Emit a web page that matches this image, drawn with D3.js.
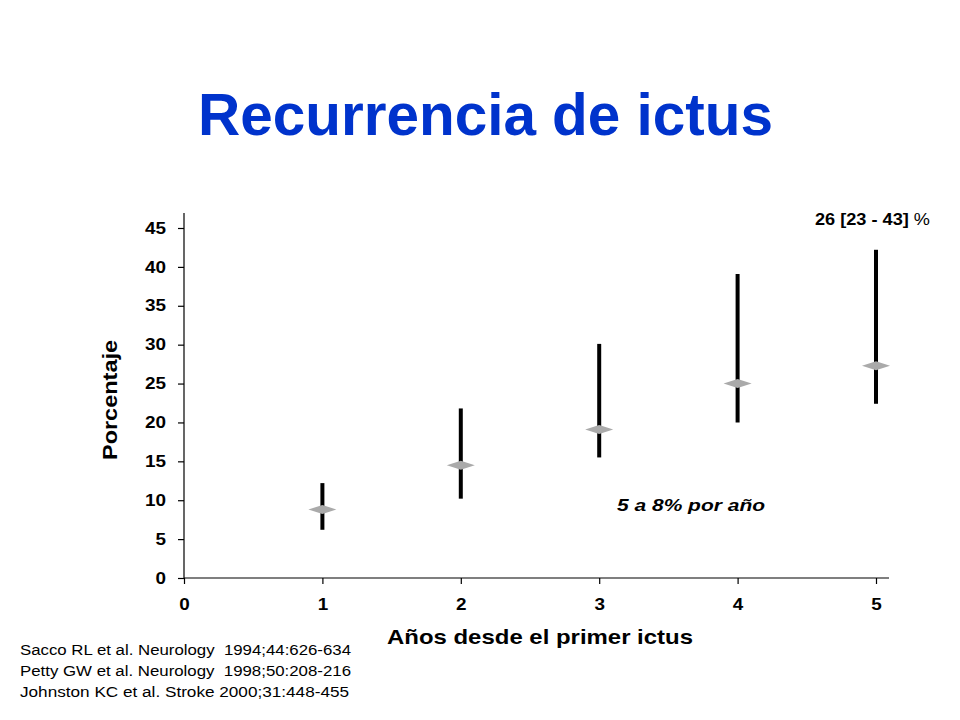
<!DOCTYPE html>
<html>
<head>
  <meta charset="utf-8">
  <script src="https://d3js.org/d3.v7.min.js"></script>
  <style>
    body { margin: 0; background: #fff; }
    text { font-family: "Liberation Sans", Arial, sans-serif; }
    .axis path, .axis line { stroke: #000; stroke-width: 1.2; }
    .axis text { font-size: 16px; font-weight: bold; fill: #000; }
  </style>
</head>
<body>
<script>
  // years since first stroke, with point estimate and range (percent)
  var years = [1, 2, 3, 4, 5];
  var centre = [8.8, 14.5, 19.1, 25.0, 27.3];
  var low = [6.2, 10.2, 15.5, 20.0, 22.4];
  var high = [12.2, 21.8, 30.1, 39.1, 42.2];
  var yTicks = [0, 5, 10, 15, 20, 25, 30, 35, 40, 45];
  var xTicks = [0, 1, 2, 3, 4, 5];
  var references = [
    "Sacco RL et al. Neurology  1994;44:626-634",
    "Petty GW et al. Neurology  1998;50:208-216",
    "Johnston KC et al. Stroke 2000;31:448-455"
  ];

  var width = 960, height = 720;
  var svg = d3.select("body").append("svg")
    .attr("width", width)
    .attr("height", height);

  // title
  svg.append("text")
    .attr("x", 198).attr("y", 135)
    .attr("textLength", 575).attr("lengthAdjust", "spacingAndGlyphs")
    .style("font-size", "60px").style("font-weight", "bold")
    .style("fill", "#0033cc")
    .text("Recurrencia de ictus");

  // scales
  var x = d3.scaleLinear().domain([0, 5]).range([184, 876]);
  var y = d3.scaleLinear().domain([0, 45]).range([578, 228]);

  // y axis
  var yAxis = svg.append("g").attr("class", "axis")
    .attr("transform", "translate(184,0)")
    .call(d3.axisLeft(y).tickValues(yTicks).tickFormat(d3.format("d")).tickSize(6).tickPadding(12));
  yAxis.select(".domain").attr("d", "M0,213V" + y(0));
  yAxis.selectAll("text")
    .attr("textLength", function (d) { return String(d).length * 10.5; })
    .attr("lengthAdjust", "spacingAndGlyphs");

  // x axis
  var xAxis = svg.append("g").attr("class", "axis")
    .attr("transform", "translate(0,578)")
    .call(d3.axisBottom(x).tickValues(xTicks).tickFormat(d3.format("d")).tickSize(6).tickPadding(12));
  xAxis.select(".domain").attr("d", "M184,0H889");
  xAxis.selectAll("text").attr("dy", "0.85em")
    .attr("textLength", 10.5).attr("lengthAdjust", "spacingAndGlyphs");

  // axis titles
  svg.append("text")
    .attr("transform", "translate(117,400) rotate(-90)")
    .attr("text-anchor", "middle")
    .attr("textLength", 120).attr("lengthAdjust", "spacingAndGlyphs")
    .style("font-size", "20px").style("font-weight", "bold")
    .text("Porcentaje");

  svg.append("text")
    .attr("x", 387).attr("y", 644)
    .attr("textLength", 306).attr("lengthAdjust", "spacingAndGlyphs")
    .style("font-size", "21px").style("font-weight", "bold")
    .text("Años desde el primer ictus");

  // range bars
  svg.selectAll("line.range")
    .data(years)
    .enter().append("line")
    .attr("class", "range")
    .attr("x1", function (d) { return x(d); })
    .attr("x2", function (d) { return x(d); })
    .attr("y1", function (d, i) { return y(low[i]); })
    .attr("y2", function (d, i) { return y(high[i]); })
    .style("stroke", "#000").style("stroke-width", 4);

  // diamonds for the estimate
  svg.selectAll("path.est")
    .data(years)
    .enter().append("path")
    .attr("class", "est")
    .attr("transform", function (d, i) { return "translate(" + x(d) + "," + y(centre[i]) + ")"; })
    .attr("d", "M-14,0L0,-4.5L14,0L0,4.5Z")
    .style("fill", "#aaaaaa");

  // annotations
  var note = svg.append("text")
    .attr("x", 815).attr("y", 225)
    .attr("textLength", 115).attr("lengthAdjust", "spacingAndGlyphs")
    .style("font-size", "16px");
  note.append("tspan").style("font-weight", "bold").text("26 [23 - 43]");
  note.append("tspan").text(" %");

  svg.append("text")
    .attr("x", 617).attr("y", 511)
    .attr("textLength", 148).attr("lengthAdjust", "spacingAndGlyphs")
    .style("font-size", "17px").style("font-weight", "bold").style("font-style", "italic")
    .text("5 a 8% por año");

  // references
  var refLen = [331, 331, 329];
  svg.selectAll("text.ref")
    .data(references)
    .enter().append("text")
    .attr("class", "ref")
    .attr("x", 20)
    .attr("y", function (d, i) { return 655 + i * 21; })
    .attr("textLength", function (d, i) { return refLen[i]; })
    .attr("lengthAdjust", "spacingAndGlyphs")
    .style("font-size", "14px")
    .style("white-space", "pre")
    .text(function (d) { return d; });
</script>
</body>
</html>
